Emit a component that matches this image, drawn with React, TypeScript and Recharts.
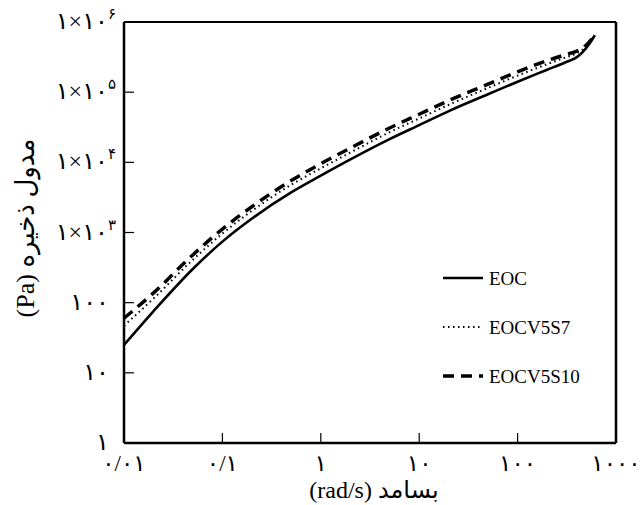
import { LineChart, Line, XAxis, YAxis, ReferenceLine } from "recharts"

// frequency (rad/s)
const freq = [0.01, 0.02, 0.05, 0.1, 0.2, 0.5, 1, 2, 5, 10, 20, 50, 100, 200, 300, 400, 450, 530, 610]
// storage modulus (Pa)
const eoc = [25, 76, 302, 741, 1580, 3720, 6460, 11000, 21400, 33900, 53700, 93300, 141000, 209000, 263000, 316000, 363000, 479000, 646000]
const eocv5s7 = [47, 115, 407, 966, 2040, 4790, 8220, 13800, 26900, 42200, 66100, 115000, 172000, 251000, 309000, 359000, 398000, 501000, 646000]
const eocv5s10 = [60, 138, 479, 1120, 2340, 5500, 9550, 16000, 30900, 48400, 75900, 130000, 195000, 282000, 339000, 385000, 417000, 513000, 646000]

const xTicks = [0.01, 0.1, 1, 10, 100, 1000]
const xTickLabels = ["۰/۰۱", "۰/۱", "۱", "۱۰", "۱۰۰", "۱۰۰۰"]
const yTicks = [1, 10, 100, 1000, 10000, 100000, 1000000]
const yTickBase = ["۱", "۱۰", "۱۰۰", "۱×۱۰", "۱×۱۰", "۱×۱۰", "۱×۱۰"]
const yTickSup = ["", "", "", "۳", "۴", "۵", "۶"]

const series = [
  { key: "eoc", name: "EOC", dash: undefined, width: 2.6 },
  { key: "eocv5s7", name: "EOCV5S7", dash: "1.5 3.5", width: 2 },
  { key: "eocv5s10", name: "EOCV5S10", dash: "11 7", width: 3.5 },
]

const data = freq.map((f, i) => ({
  freq: f,
  eoc: eoc[i],
  eocv5s7: eocv5s7[i],
  eocv5s10: eocv5s10[i],
}))

const FONT = "'Liberation Serif', 'DejaVu Sans', serif"
const LTR = { unicodeBidi: "bidi-override" as const, direction: "ltr" as const }

function XTick(props: any) {
  const { x, payload } = props
  const i = xTicks.indexOf(payload.value)
  return (
    <text x={x} y={471} textAnchor="middle" fontFamily={FONT} fontSize={23} fill="#000" style={LTR}>
      {xTickLabels[i]}
    </text>
  )
}

function YTick(props: any) {
  const { y, payload } = props
  const i = yTicks.indexOf(payload.value)
  return (
    <text x={yTickSup[i] ? 108 : 101} y={y + 7} textAnchor="end" fontFamily={FONT} fontSize={24} fill="#000" style={LTR}>
      <tspan>{yTickBase[i]}</tspan>
      {yTickSup[i] && <tspan dy={-10} fontSize={15}>{yTickSup[i]}</tspan>}
    </text>
  )
}

export default function App() {
  return (
    <div style={{ position: "relative", width: 636, height: 505, marginTop: -8 }}>
      <LineChart width={636} height={505} data={data} margin={{ top: 22, right: 28, bottom: 0, left: 0 }}>
        <XAxis
          dataKey="freq"
          type="number"
          scale="log"
          domain={[0.01, 1000]}
          ticks={xTicks}
          allowDataOverflow
          tick={<XTick />}
          tickSize={-10}
          height={62}
          axisLine={{ stroke: "#000", strokeWidth: 2.5 }}
          tickLine={{ stroke: "#000", strokeWidth: 1.2 }}
        />
        <YAxis
          type="number"
          scale="log"
          domain={[1, 1000000]}
          ticks={yTicks}
          allowDataOverflow
          tick={<YTick />}
          tickSize={-10}
          width={116}
          axisLine={{ stroke: "#000", strokeWidth: 2.5 }}
          tickLine={{ stroke: "#000", strokeWidth: 1.2 }}
        />
        <ReferenceLine y={1000000} stroke="#000" strokeWidth={2} />
        <ReferenceLine x={1000} stroke="#000" strokeWidth={2.5} />
        {series.map((s) => (
          <Line
            key={s.key}
            dataKey={s.key}
            name={s.name}
            type="monotone"
            stroke="#000"
            strokeWidth={s.width}
            strokeDasharray={s.dash}
            dot={false}
            isAnimationActive={false}
          />
        ))}
      </LineChart>
      <svg width={636} height={505} style={{ position: "absolute", left: 0, top: 0, pointerEvents: "none" }}>
        {/* legend */}
        {series.map((s, i) => (
          <g key={s.key}>
            <line x1={435} x2={475} y1={278 + i * 49} y2={278 + i * 49} stroke="#000" strokeWidth={s.width} strokeDasharray={s.dash} />
            <text x={481} y={285 + i * 49} fontFamily={FONT} fontSize={19} fill="#000">
              {s.name}
            </text>
          </g>
        ))}
        <text
          x={366}
          y={498}
          textAnchor="middle"
          fontFamily={FONT}
          fontSize={24}
          fill="#000"
          direction="rtl"
          style={{ direction: "rtl" }}
        >
          بسامد (rad/s)
        </text>
        <text
          transform="translate(26, 228) rotate(-90)"
          textAnchor="middle"
          fontFamily={FONT}
          fontSize={26}
          fill="#000"
          direction="rtl"
          style={{ direction: "rtl" }}
        >
          مدول ذخیره (Pa)
        </text>
      </svg>
    </div>
  )
}
